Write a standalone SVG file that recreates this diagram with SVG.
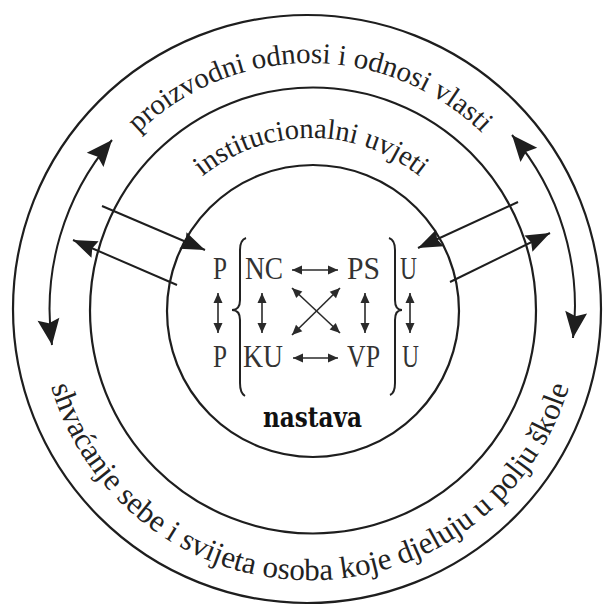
<svg xmlns="http://www.w3.org/2000/svg" width="603" height="610" viewBox="0 0 603 610">
<style>
.ring{fill:none;stroke:#1e1e1e;stroke-width:2.2}
.conn{fill:none;stroke:#1e1e1e;stroke-width:2}
.sm{fill:none;stroke:#2a2a2a;stroke-width:1.6}
.brace{fill:none;stroke:#222;stroke-width:2}
.lbl{font-family:"Liberation Serif","Times New Roman",serif;fill:#222}
.ctr{font-family:"Liberation Serif","Times New Roman",serif;fill:#333;font-size:32px}
.nast{font-family:"DejaVu Serif","Liberation Serif",serif;font-weight:bold;fill:#111;font-size:27px}
</style>
<defs>
<marker id="big" markerUnits="userSpaceOnUse" viewBox="-28 -13 30 26" markerWidth="30" markerHeight="26" refX="0" refY="0" orient="auto-start-reverse">
<path d="M0,0 L-26,-11 L-22,0 L-26,11 Z" fill="#1e1e1e"/>
</marker>
<marker id="mid" markerUnits="userSpaceOnUse" viewBox="-26 -11 28 22" markerWidth="28" markerHeight="22" refX="0" refY="0" orient="auto">
<path d="M0,0 L-24,-9 L-21,0 L-24,9 Z" fill="#1e1e1e"/>
</marker>
<marker id="tiny" markerUnits="userSpaceOnUse" viewBox="-11 -5 12 10" markerWidth="12" markerHeight="10" refX="0" refY="0" orient="auto-start-reverse">
<path d="M0,0 L-10,-4.5 L-10,4.5 Z" fill="#2a2a2a"/>
</marker>
<path id="pOuter" d="M97,186 A246,246 0 0 1 523,186"/>
<path id="pInner" d="M162,224 A172,172 0 0 1 460,224"/>
<path id="pBottom" d="M41,333.5 A270,270 0 0 0 579,333.5"/>
</defs>

<g id="ring-outer">
<circle class="ring" cx="307" cy="309" r="294"/>
<text class="lbl" font-size="29"><textPath href="#pOuter" startOffset="50%" text-anchor="middle">proizvodni odnosi i odnosi vlasti</textPath></text>
<text class="lbl" font-size="31"><textPath href="#pBottom" startOffset="50%" text-anchor="middle">shvaćanje sebe i svijeta osoba koje djeluju u polju škole</textPath></text>
</g>

<g id="ring-middle">
<circle class="ring" cx="313" cy="310.5" r="223"/>
<text class="lbl" font-size="28.5"><textPath href="#pInner" startOffset="50%" text-anchor="middle">institucionalni uvjeti</textPath></text>
</g>

<g id="ring-inner">
<circle class="ring" cx="313" cy="311" r="146"/>
<text class="nast" x="263" y="427" textLength="99" lengthAdjust="spacingAndGlyphs">nastava</text>
</g>

<g id="node-P1"><text class="ctr" x="213" y="279" textLength="14" lengthAdjust="spacingAndGlyphs">P</text></g>
<g id="node-NC"><text class="ctr" x="245" y="279" textLength="38" lengthAdjust="spacingAndGlyphs">NC</text></g>
<g id="node-PS"><text class="ctr" x="347" y="279" textLength="33" lengthAdjust="spacingAndGlyphs">PS</text></g>
<g id="node-U1"><text class="ctr" x="400" y="279" textLength="17" lengthAdjust="spacingAndGlyphs">U</text></g>
<g id="node-P2"><text class="ctr" x="213" y="367" textLength="14" lengthAdjust="spacingAndGlyphs">P</text></g>
<g id="node-KU"><text class="ctr" x="243" y="367" textLength="40" lengthAdjust="spacingAndGlyphs">KU</text></g>
<g id="node-VP"><text class="ctr" x="347" y="367" textLength="33" lengthAdjust="spacingAndGlyphs">VP</text></g>
<g id="node-U2"><text class="ctr" x="402" y="367" textLength="17" lengthAdjust="spacingAndGlyphs">U</text></g>

<g id="braces">
<path class="brace" d="M246,238 Q240,240 240,250 L240,300 Q240,310 232,310 Q240,310 240,320 L240,383 Q240,393 245,396"/>
<path class="brace" d="M389,238 Q395,240 395,250 L395,300 Q395,310 402,310 Q395,310 395,320 L395,383 Q395,393 390,395"/>
</g>

<g id="connectors">
<path class="conn" d="M112,140 A261,261 0 0 0 52,345" marker-start="url(#big)" marker-end="url(#big)"/>
<path class="conn" d="M512,135 A264,264 0 0 1 573,338" marker-start="url(#big)" marker-end="url(#big)"/>
<path class="conn" d="M102,206 L205,250" marker-end="url(#mid)"/>
<path class="conn" d="M177,285 L73,240" marker-end="url(#mid)"/>
<path class="conn" d="M518,202 L418,248" marker-end="url(#mid)"/>
<path class="conn" d="M450,282 L550,233" marker-end="url(#mid)"/>
<path class="sm" d="M292,270 L338,270" marker-start="url(#tiny)" marker-end="url(#tiny)"/>
<path class="sm" d="M293,358 L338,358" marker-start="url(#tiny)" marker-end="url(#tiny)"/>
<path class="sm" d="M218,293 L218,333" marker-start="url(#tiny)" marker-end="url(#tiny)"/>
<path class="sm" d="M262,293 L262,333" marker-start="url(#tiny)" marker-end="url(#tiny)"/>
<path class="sm" d="M365,293 L365,333" marker-start="url(#tiny)" marker-end="url(#tiny)"/>
<path class="sm" d="M410,293 L410,333" marker-start="url(#tiny)" marker-end="url(#tiny)"/>
<path class="sm" d="M292,288 L340,333" marker-start="url(#tiny)" marker-end="url(#tiny)"/>
<path class="sm" d="M340,288 L292,335" marker-start="url(#tiny)" marker-end="url(#tiny)"/>
</g>
</svg>
